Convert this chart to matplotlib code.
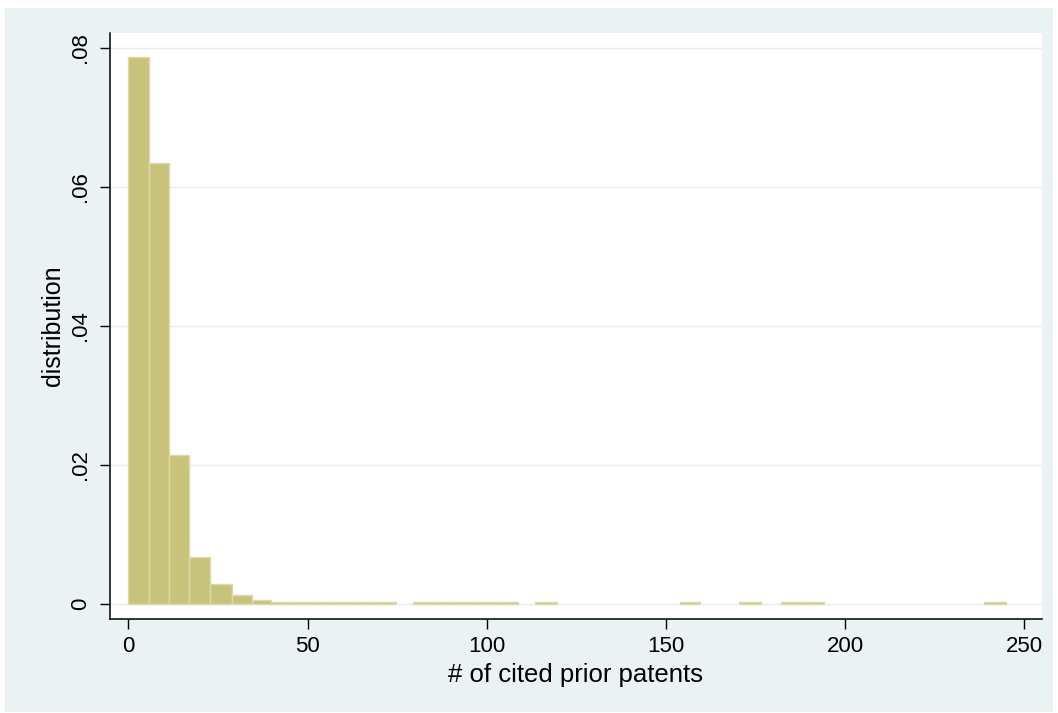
import numpy as np
import matplotlib.pyplot as plt
from matplotlib.patches import Rectangle

# histogram bins (# of cited prior patents)
bin_left = [0.0, 5.7, 11.3, 17.0, 22.8, 29.0, 34.4, 39.9, 45.7, 51.5, 57.2, 63.0,
            68.8, 79.4, 85.3, 91.2, 97.0, 102.9, 113.4, 153.8, 170.4, 182.2, 188.3, 238.8]
bin_right = [5.7, 11.3, 17.0, 22.8, 29.0, 34.4, 39.9, 45.7, 51.5, 57.2, 63.0, 68.8,
             74.6, 85.3, 91.2, 97.0, 102.9, 108.8, 119.6, 159.6, 176.4, 188.3, 194.2, 244.9]
density = [0.0787, 0.0635, 0.0215, 0.0067, 0.0029, 0.0013, 0.00055, 0.0003, 0.0003,
           0.0003, 0.0003, 0.0003, 0.0003, 0.0003, 0.0003, 0.0003, 0.0003, 0.0003,
           0.0003, 0.0003, 0.0003, 0.0003, 0.0003, 0.0003]

x_ticks = [0, 50, 100, 150, 200, 250]
y_ticks = [0, 0.02, 0.04, 0.06, 0.08]
y_tick_labels = ["0", ".02", ".04", ".06", ".08"]

plt.rcParams['font.family'] = ['Liberation Sans', 'DejaVu Sans']

W, H = 1058, 713
fig = plt.figure(figsize=(W / 100, H / 100), dpi=100, facecolor="white")
# stata-like graph region
bg = Rectangle((5 / W, 1 / H), 1048 / W, 704 / H, transform=fig.transFigure,
               facecolor="#EAF2F3", edgecolor="none", zorder=-10)
fig.add_artist(bg)

ax = fig.add_axes([110 / W, (H - 619) / H, 932 / W, 586 / H])
ax.set_zorder(5)
ax.set_facecolor("white")

left = np.array(bin_left)
width = np.array(bin_right) - left
ax.bar(left, density, width=width, align="edge", color="#C8C37C",
       edgecolor="#DEDAA8", linewidth=1.0, zorder=3)

ax.set_xlim(-5.1, 254.9)
ax.set_ylim(-0.00216, 0.08216)

ax.set_xticks(x_ticks)
ax.set_yticks(y_ticks)
ax.set_yticklabels(y_tick_labels, rotation=90, va="center")
ax.tick_params(axis="both", direction="out", length=7.5, width=1.0, colors="black",
               labelsize=16)
ax.tick_params(axis="x", pad=5)
ax.tick_params(axis="y", pad=6)

for y in y_ticks:
    ax.axhline(y, color="#E6EEF1", linewidth=1.0, zorder=1)

for s in ["top", "right"]:
    ax.spines[s].set_visible(False)
for s in ["left", "bottom"]:
    ax.spines[s].set_linewidth(1.1)
    ax.spines[s].set_color("black")

ax.set_xlabel("# of cited prior patents", fontsize=18.5, labelpad=4)
ax.set_ylabel("distribution", fontsize=18, labelpad=4)

fig.savefig("out.png", dpi=100, facecolor=fig.get_facecolor())
